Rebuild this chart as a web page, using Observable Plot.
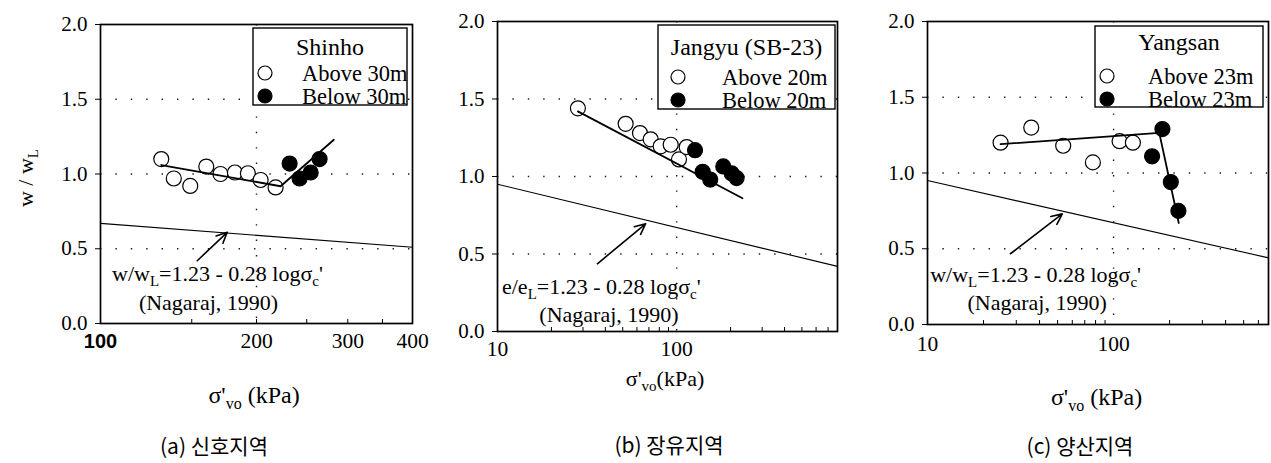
<!DOCTYPE html>
<html><head><meta charset="utf-8">
<script src="https://cdn.jsdelivr.net/npm/d3@7"></script>
<script src="https://cdn.jsdelivr.net/npm/@observablehq/plot@0.6"></script>
<style>
body{margin:0;background:#fff;}
#wrap{position:relative;width:1271px;height:463px;overflow:hidden;background:#fff;}
#wrap svg text{font-family:"Liberation Serif","Times New Roman",serif;}
#wrap svg text.sans{font-family:"Liberation Sans",Arial,sans-serif;}
#wrap svg text.kr{font-family:"Noto Sans CJK KR","Noto Sans",sans-serif;}
</style></head><body><div id="wrap"></div>
<script>
// ---------- shared ----------
const yTicks = [0, 0.5, 1.0, 1.5, 2.0];
const yGridValues = [0.5, 1.0, 1.5];
const nagarajFormulaW = [["w/w", 0], ["L", 1], ["=1.23 - 0.28 log\u03c3", 0], ["c", 1], ["'", 0]];
const nagarajFormulaE = [["e/e", 0], ["L", 1], ["=1.23 - 0.28 log\u03c3", 0], ["c", 1], ["'", 0]];
const nagarajSource = "(Nagaraj, 1990)";
const xAxisTitle = [["\u03c3'", 0], ["vo", 1], [" (kPa)", 0]];
const xAxisTitleB = [["\u03c3'", 0], ["vo", 1], ["(kPa)", 0]];
const yAxisTitle = [["w / w", 0], ["L", 1]];

// ---------- (a) Shinho ----------
const aTitle = "Shinho";
const aLabels = ["Above 30m", "Below 30m"];
const aCaption = "(a) 신호지역";
const aXDomain = [100, 400];
const aXTicksSerif = [200, 300, 400];
const aXTicksSans = [100];
const aXGrid = [200];
const aXMinor = [150, 200, 250, 300, 350];
const aAboveSigma = [131, 138.5, 149, 160, 170.4, 181.7, 192.5, 203.7, 217.7];
const aAboveRatio = [1.10, 0.97, 0.92, 1.05, 1.00, 1.01, 1.005, 0.96, 0.91];
const aBelowSigma = [231.7, 242.2, 254.4, 264.7];
const aBelowRatio = [1.07, 0.97, 1.01, 1.10];
const aTrendSigma = [131, 222.6, 282];
const aTrendRatio = [1.06, 0.918, 1.229];
const aNagarajSigma = [100, 400];
const aNagarajRatio = [0.67, 0.51];
const aArrowSigma = [153.7, 175.6];
const aArrowRatio = [0.42, 0.61];

// ---------- (b) Jangyu ----------
const bTitle = "Jangyu (SB-23)";
const bLabels = ["Above 20m", "Below 20m"];
const bCaption = "(b) 장유지역";
const bXDomain = [10, 790];
const bXTicksSerif = [10, 100];
const bXGrid = [100];
const bXMinor = [20, 30, 40, 50, 60, 70, 80, 90, 200, 300, 400, 500, 600, 700];
const bAboveSigma = [28.1, 51.9, 62.4, 71.6, 81.4, 92.6, 103, 113.7];
const bAboveRatio = [1.44, 1.34, 1.28, 1.24, 1.195, 1.205, 1.11, 1.19];
const bBelowSigma = [126.6, 139.7, 153.9, 182, 203, 216];
const bBelowRatio = [1.17, 1.03, 0.98, 1.065, 1.02, 0.99];
const bTrendSigma = [28.1, 233];
const bTrendRatio = [1.42, 0.86];
const bNagarajSigma = [10, 790];
const bNagarajRatio = [0.95, 0.42];
const bArrowSigma = [36.1, 67.1];
const bArrowRatio = [0.437, 0.695];

// ---------- (c) Yangsan ----------
const cTitle = "Yangsan";
const cLabels = ["Above 23m", "Below 23m"];
const cCaption = "(c) 양산지역";
const cXDomain = [10, 680];
const cXTicksSerif = [10, 100];
const cXGrid = [100];
const cXMinor = [20, 30, 40, 50, 60, 70, 80, 90, 200, 300, 400, 500, 600];
const cAboveSigma = [24.7, 36.1, 53.6, 77.4, 107.7, 127];
const cAboveRatio = [1.20, 1.30, 1.18, 1.07, 1.21, 1.20];
const cBelowSigma = [183, 161, 203, 223];
const cBelowRatio = [1.29, 1.11, 0.94, 0.75];
const cTrendSigma = [24.7, 176, 224];
const cTrendRatio = [1.19, 1.265, 0.67];
const cNagarajSigma = [10, 680];
const cNagarajRatio = [0.95, 0.44];
const cArrowSigma = [27.9, 53];
const cArrowRatio = [0.467, 0.73];

const SERIF = "Liberation Serif, Times New Roman, serif";

const zipXY = (xs, ys) => xs.map((x, i) => ({x, y: ys[i]}));

function richText(svg, x, y, parts, size, anchor, rotate) {
  const t = d3.select(svg).append("text")
    .attr("transform", `translate(${x},${y})` + (rotate ? ` rotate(${rotate})` : ""))
    .attr("text-anchor", anchor).style("font-size", size + "px").attr("fill", "#000")
    .attr("y", size * 0.35);
  const shift = size * 0.24;
  let level = 0;
  for (const [s, sub] of parts) {
    const ts = t.append("tspan").text(s);
    if (sub && level === 0) { ts.attr("dy", shift); level = 1; }
    else if (!sub && level === 1) { ts.attr("dy", -shift); level = 0; }
    if (sub) ts.style("font-size", Math.round(size * 0.66) + "px");
  }
  return t;
}

function panel(o) {
  const above = zipXY(o.aboveX, o.aboveY);
  const below = zipXY(o.belowX, o.belowY);
  const trend = zipXY(o.trendX, o.trendY);
  const nag = zipXY(o.nagX, o.nagY);
  const arrow = [{x1: o.arrX[0], y1: o.arrY[0], x2: o.arrX[1], y2: o.arrY[1]}];
  const marks = [
    Plot.gridY({ticks: yGridValues, stroke: "#000", strokeOpacity: 0.9, strokeWidth: 1.4, strokeDasharray: "1.4,14"}),
    Plot.gridX({ticks: o.xGrid, stroke: "#000", strokeOpacity: 0.9, strokeWidth: 1.4, strokeDasharray: "1.4,14"}),
    Plot.axisY({ticks: yTicks, tickFormat: d3.format(".1f"), tickSize: 5, tickPadding: 8, fontSize: 21, label: null}),
    Plot.axisX({ticks: o.xMinor, tickSize: -4, tickFormat: () => "", label: null}),
    Plot.text(o.xTicksSerif, {x: d => d, frameAnchor: "bottom", dy: o.tickDy, fontSize: 21.5}),
    Plot.line(nag, {x: "x", y: "y", stroke: "#000", strokeWidth: 1.1}),
    Plot.dot(above, {x: "x", y: "y", r: 7.5, fill: "#fff", stroke: "#000", strokeWidth: 1.2}),
    Plot.dot(below, {x: "x", y: "y", r: 7.5, fill: "#000", stroke: "#000", strokeWidth: 1.2}),
    Plot.line(trend, {x: "x", y: "y", stroke: "#000", strokeWidth: 1.8}),
    Plot.arrow(arrow, {x1: "x1", y1: "y1", x2: "x2", y2: "y2", stroke: "#000", strokeWidth: 1.6, headLength: 11, headAngle: 50}),
    Plot.text([nagarajSource], {x: o.srcX, y: o.srcY, fontSize: 22, fill: "#000"}),
    Plot.frame({stroke: "#000", strokeWidth: 1.7})
  ];
  if (o.xTicksSans) marks.push(Plot.text(o.xTicksSans, {x: d => d, frameAnchor: "bottom", dy: o.tickDy, fontSize: 20, fontWeight: "bold", className: "sansTick"}));
  const svg = Plot.plot({
    width: o.width, height: 463,
    marginLeft: o.ml, marginRight: o.mr, marginTop: o.mt, marginBottom: o.mb,
    style: {fontFamily: SERIF, fontSize: "21px", color: "#000", background: "transparent"},
    x: {type: "log", domain: o.xDomain},
    y: {domain: [0, 2]},
    marks
  });
  svg.style.position = "absolute";
  svg.style.left = o.left + "px";
  svg.style.top = "0px";
  d3.select(svg).selectAll(".sansTick text").classed("sans", true);
  const sx = svg.scale("x"), sy = svg.scale("y");
  // formula annotation
  richText(svg, sx.apply(o.fX), sy.apply(o.fY), o.formula, 22, "start");
  // x axis title
  const [r0, r1] = sx.range;
  richText(svg, (r0 + r1) / 2 + o.xtOff, o.xtY, o.xTitle, o.xtSize, "middle");
  // caption
  d3.select(svg).append("text").classed("kr", true).attr("x", o.capX).attr("y", o.capY).attr("dy", "0.35em")
    .attr("text-anchor", "middle").style("font-size", "21px").attr("fill", "#000").text(o.caption);
  // legend
  const L = o.legend;
  const g = d3.select(svg).append("g");
  g.append("rect").attr("x", L.x).attr("y", L.y).attr("width", L.w).attr("height", L.h)
    .attr("fill", "#fff").attr("stroke", "#000").attr("stroke-width", 1.4);
  g.append("text").attr("x", L.x + L.w / 2).attr("y", L.ty).attr("dy", "0.35em").attr("text-anchor", "middle")
    .style("font-size", "24px").attr("fill", "#000").text(o.title);
  [0, 1].forEach(i => {
    g.append("circle").attr("cx", L.cx).attr("cy", L.rows[i]).attr("r", 7)
      .attr("fill", i ? "#000" : "#fff").attr("stroke", "#000").attr("stroke-width", 1.2);
    g.append("text").attr("x", L.lx).attr("y", L.rows[i]).attr("dy", "0.35em").attr("text-anchor", "start")
      .style("font-size", "22.5px").attr("fill", "#000").text(o.labels[i]);
  });
  if (o.yTitle) richText(svg, 25, 178, yAxisTitle, 22, "middle", -90);
  return svg;
}

const wrap = document.getElementById("wrap");
wrap.appendChild(panel({
  left: 0, width: 430, ml: 100, mr: 18, mt: 24, mb: 140,
  xDomain: aXDomain, xTicksSerif: aXTicksSerif, xTicksSans: aXTicksSans, xGrid: aXGrid, xMinor: aXMinor, tickDy: 24,
  aboveX: aAboveSigma, aboveY: aAboveRatio, belowX: aBelowSigma, belowY: aBelowRatio,
  trendX: aTrendSigma, trendY: aTrendRatio, nagX: aNagarajSigma, nagY: aNagarajRatio,
  arrX: aArrowSigma, arrY: aArrowRatio,
  formula: nagarajFormulaW, fX: 105.5, fY: 0.335, srcX: 161.6, srcY: 0.14,
  xTitle: xAxisTitle, xtOff: -2, xtY: 395, xtSize: 24,
  caption: aCaption, capX: 214, capY: 447,
  title: aTitle, labels: aLabels,
  legend: {x: 253, y: 28, w: 154, h: 77, ty: 47, cx: 265, lx: 302, rows: [73, 96]},
  yTitle: true
}));
wrap.appendChild(panel({
  left: 430, width: 415, ml: 67, mr: 8, mt: 21, mb: 132,
  xDomain: bXDomain, xTicksSerif: bXTicksSerif, xGrid: bXGrid, xMinor: bXMinor, tickDy: 24,
  aboveX: bAboveSigma, aboveY: bAboveRatio, belowX: bBelowSigma, belowY: bBelowRatio,
  trendX: bTrendSigma, trendY: bTrendRatio, nagX: bNagarajSigma, nagY: bNagarajRatio,
  arrX: bArrowSigma, arrY: bArrowRatio,
  formula: nagarajFormulaE, fX: 10.66, fY: 0.29, srcX: 41.9, srcY: 0.105,
  xTitle: xAxisTitleB, xtOff: -2, xtY: 378, xtSize: 22,
  caption: bCaption, capX: 239, capY: 446,
  title: bTitle, labels: bLabels,
  legend: {x: 228, y: 25, w: 177, h: 84, ty: 47, cx: 248, lx: 292, rows: [77, 100]}
}));
wrap.appendChild(panel({
  left: 845, width: 426, ml: 82, mr: 3, mt: 21, mb: 139,
  xDomain: cXDomain, xTicksSerif: cXTicksSerif, xGrid: cXGrid, xMinor: cXMinor, tickDy: 26,
  aboveX: cAboveSigma, aboveY: cAboveRatio, belowX: cBelowSigma, belowY: cBelowRatio,
  trendX: cTrendSigma, trendY: cTrendRatio, nagX: cNagarajSigma, nagY: cNagarajRatio,
  arrX: cArrowSigma, arrY: cArrowRatio,
  formula: nagarajFormulaW, fX: 10.4, fY: 0.328, srcX: 38.8, srcY: 0.14,
  xTitle: xAxisTitle, xtOff: -1, xtY: 397, xtSize: 24,
  caption: cCaption, capX: 235, capY: 447,
  title: cTitle, labels: cLabels,
  legend: {x: 250, y: 26, w: 168, h: 81, ty: 42, cx: 262, lx: 303, rows: [76, 99]}
}));
</script></body></html>
